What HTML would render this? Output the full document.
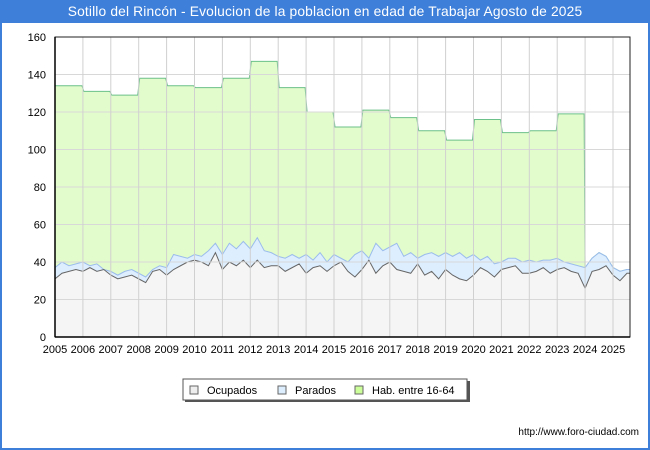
<!DOCTYPE html>
<html><head><meta charset="utf-8">
<style>
body{margin:0;width:650px;height:450px;background:#fff;font-family:"Liberation Sans",sans-serif;overflow:hidden}
#frame{position:absolute;left:0;top:0;width:646px;height:446px;border:2px solid #3d7fd9}
#title{position:absolute;left:0;top:0;width:650px;height:23px;background:#3d7fd9;color:#fff;font-size:13.8px;letter-spacing:0.15px;text-align:center;line-height:23px}
#footer{position:absolute;right:11px;top:427px;font-size:10px;color:#000}
</style></head><body>
<div id="frame"></div>
<div id="title">Sotillo del Rincón - Evolucion de la poblacion en edad de Trabajar Agosto de 2025</div>
<svg id="chart" width="650" height="450" style="position:absolute;left:0;top:0"></svg>
<div id="footer">http://www.foro-ciudad.com</div>
<script>
const habYears=[2005,2006,2007,2008,2009,2010,2011,2012,2013,2014,2015,2016,2017,2018,2019,2020,2021,2022,2023];
const habValues=[134,131,129,138,134,133,138,147,133,120,112,121,117,110,105,116,109,110,119];
const parados=[37,40,38,39,40,38,39,36,35,33,35,36,34,32,36,38,37,44,43,42,44,43,46,50,44,50,47,51,47,53,46,45,43,42,44,42,44,41,45,40,
44,42,40,44,46,42,50,46,48,50,43,45,42,44,45,43,45,43,45,42,44,41,43,39,40,42,42,40,41,40,41,41,42,40,39,38,37,42,45,43,37,35,36];
const ocupados=[31,34,35,36,35,37,35,36,33,31,32,33,31,29,35,36,33,36,38,40,41,40,38,45,36,40,38,41,37,41,37,38,38,35,37,39,34,37,38,35,
38,40,35,32,36,41,34,38,40,36,35,34,39,33,35,31,36,33,31,30,33,37,35,32,36,37,38,34,34,35,37,34,36,37,35,34,26,35,36,38,33,30,34];
const yTicks=[0,20,40,60,80,100,120,140,160];
const xTicks=[2005,2006,2007,2008,2009,2010,2011,2012,2013,2014,2015,2016,2017,2018,2019,2020,2021,2022,2023,2024,2025];
const X0=55,X1=630,Y0=337,Y1=37;
const xs=t=>X0+(t-2005)*27.9;
const ys=v=>Y0-v*(Y0-Y1)/160;
const svg=document.getElementById('chart');
const NS='http://www.w3.org/2000/svg';
function mk(tag,attrs,parent){const e=document.createElementNS(NS,tag);for(const k in attrs)e.setAttribute(k,attrs[k]);(parent||svg).appendChild(e);return e;}
const tq=i=>2005+i*0.25;
let r=mk('rect',{x:X0,y:Y1,width:X1-X0,height:Y0-Y1,fill:'#fff'});


let hp=[];
habYears.forEach((y,i)=>{hp.push([xs(y)+(i?1:0),ys(habValues[i])]);hp.push([xs(y+1)-1,ys(habValues[i])]);});
const startI=habYears.length*4;
for(let i=startI;i<parados.length;i++)hp.push([xs(tq(i)),ys(parados[i])]);
hp.push([X1,ys(parados[parados.length-1])]);
let habPts=hp.map(p=>p.join(',')).join(' ');
let e=mk('polygon',{points:habPts+` ${X1},${Y0} ${X0},${Y0}`,fill:'#e3fccb'});


e=mk('polyline',{points:habPts,fill:'none',stroke:'#6cc08a','stroke-width':1});


let pp=parados.map((v,i)=>[xs(tq(i)),ys(v)]);pp.push([X1,ys(parados[parados.length-1])]);
let ppS=pp.map(p=>p.join(',')).join(' ');
e=mk('polygon',{points:ppS+` ${X1},${Y0} ${X0},${Y0}`,fill:'#ddeeff'});


e=mk('polyline',{points:ppS,fill:'none',stroke:'#9bbcec','stroke-width':1});


let op=ocupados.map((v,i)=>[xs(tq(i)),ys(v)]);op.push([X1,ys(ocupados[ocupados.length-1])]);
let opS=op.map(p=>p.join(',')).join(' ');
e=mk('polygon',{points:opS+` ${X1},${Y0} ${X0},${Y0}`,fill:'#f5f5f5'});


e=mk('polyline',{points:opS,fill:'none',stroke:'#666','stroke-width':1});


yTicks.forEach(v=>{
  let g=mk('line',{x1:X0,x2:X1,y1:ys(v),y2:ys(v),stroke:'#d8d8d8','stroke-width':1});
  
  
  let t=mk('text',{x:X0-9,y:ys(v)+4,'text-anchor':'end','font-size':11,fill:'#000'});
  t.textContent=v;
  
  
});
xTicks.forEach(y=>{
  let g=mk('line',{x1:xs(y),x2:xs(y),y1:Y1,y2:Y0,stroke:'#d0d0d0','stroke-width':1});
  
  
  let t=mk('text',{x:xs(y),y:Y0+16,'text-anchor':'middle','font-size':11,fill:'#000'});
  t.textContent=y;
  
  
});
e=mk('rect',{x:X0,y:Y1,width:X1-X0,height:Y0-Y1,fill:'none',stroke:'#222','stroke-width':1});


e=mk('line',{x1:X0,x2:X0,y1:Y1,y2:Y0,stroke:'#000','stroke-width':1.5});


e=mk('line',{x1:X0,x2:X1,y1:Y0,y2:Y0,stroke:'#000','stroke-width':1.5});


const lg=mk('g',{});


mk('rect',{x:185,y:381,width:285,height:21,fill:'#555'},lg);
mk('rect',{x:183,y:379,width:284,height:21,fill:'#fff',stroke:'#555','stroke-width':1},lg);
const leg=[['Ocupados','#eeeeee',190],['Parados','#ddeeff',278],['Hab. entre 16-64','#ccff99',355]];
leg.forEach(l=>{
  const g=mk('g',{},lg);
  
  
  mk('rect',{x:l[2],y:386,width:8,height:8,fill:l[1],stroke:'#666','stroke-width':1},g);
  const t=mk('text',{x:l[2]+17,y:394,'font-size':11,fill:'#000'},g);
  t.textContent=l[0];
});
</script>
</body></html>
